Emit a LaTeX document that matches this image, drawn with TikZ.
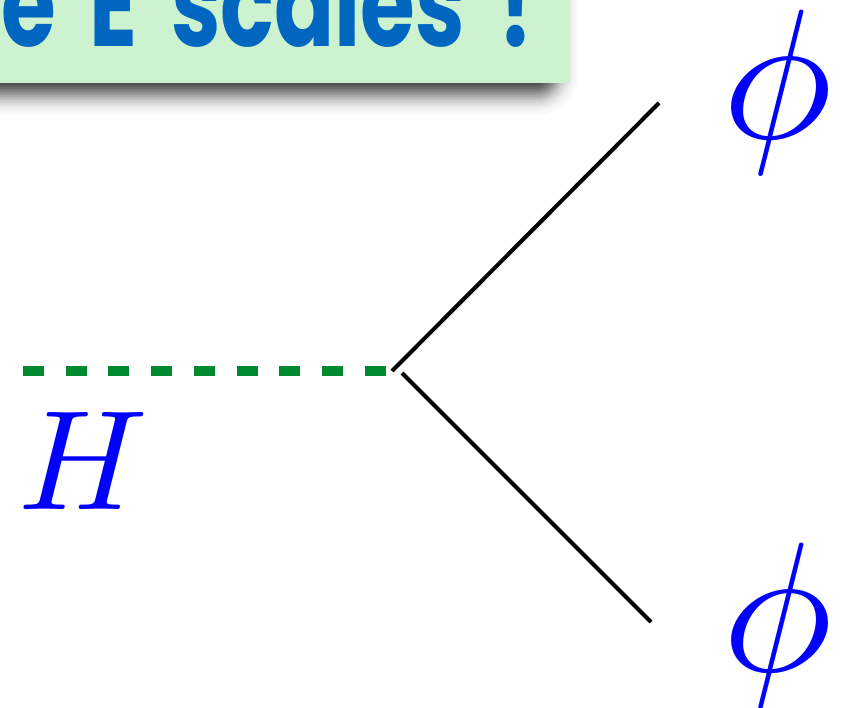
\documentclass[tikz,border=0pt]{standalone}
\usepackage{fontspec}
\usepackage{graphicx}
\newfontfamily\comicfont{Poppins}[WordSpace=1.8]
\definecolor{boxgreen}{HTML}{CCF2CF}
\definecolor{titleblue}{HTML}{0066C0}
\definecolor{dashgreen}{HTML}{008A30}
\definecolor{mathblue}{HTML}{0000FF}
\tikzset{
  fermion/.style={black, line width=4pt, line cap=butt},
  higgs/.style={dashgreen, line width=10pt, line cap=butt, dash pattern=on 21pt off 21.7pt},
  label/.style={text=mathblue, inner sep=0pt},
}
\begin{document}
\begin{tikzpicture}[x=1pt, y=-1pt]
\useasboundingbox (0,0) rectangle (842,707);
\begin{scope}
\clip (0,0) rectangle (842,707);
% blurred shadow (layered approximation of a gaussian blur)
\foreach \e/\a in {20/0.018, 18/0.011, 16/0.016, 14/0.022, 12/0.029, 10/0.038,
                   8/0.049, 6/0.060, 4/0.072, 2/0.084, 0/0.096, -2/0.106,
                   -4/0.114, -6/0.118, -8/0.119, -10/0.115, -12/0.107,
                   -14/0.094, -16/0.079, -18/0.062, -20/0.046} {
  \pgfmathsetmacro{\rc}{\e+22}
  \fill[black, opacity=\a, rounded corners=\rc pt]
    (-60-\e,-60-\e) rectangle (558+\e, 95+\e);
}
\fill[boxgreen] (-40,-40) rectangle (570,83);
\node[anchor=base west, inner sep=0pt, text=titleblue] (title) at (1,46)
  {\scalebox{1}[1.35]{\resizebox{532pt}{!}{\comicfont\bfseries e E scales !}}};
\end{scope}
% vertex points
\coordinate (hstart) at (23,371);
\coordinate (hend) at (386,371);
\coordinate (vup) at (392,371);
\coordinate (vdn) at (402,373);
\coordinate (pup) at (659,103);
\coordinate (pdn) at (651,622);
\draw[higgs] (hstart) -- (hend);
\draw[fermion] (vup) -- (pup);
\draw[fermion] (vdn) -- (pdn);
\node[label, anchor=base west] (H) at (18,509) {\scalebox{14.2}{$H$}};
\node[label, anchor=base west] (phiup) at (722,138) {\scalebox{18.5}{$\phi$}};
\node[label, anchor=base west] (phidn) at (722,671) {\scalebox{18.5}{$\phi$}};
\end{tikzpicture}
\end{document}
